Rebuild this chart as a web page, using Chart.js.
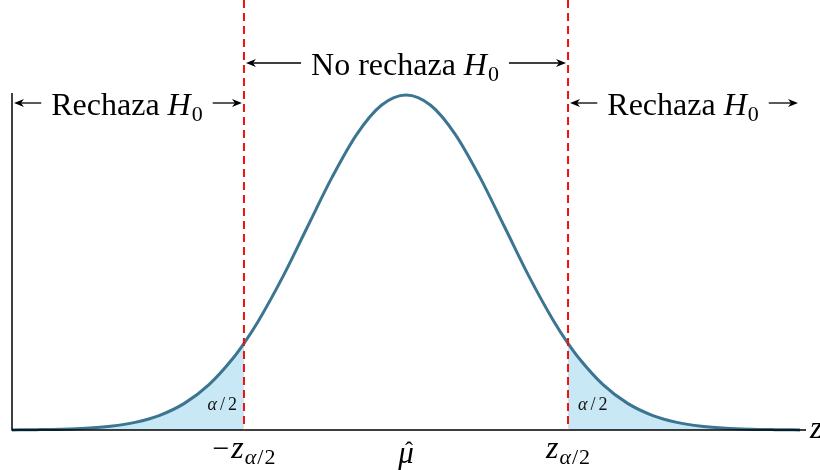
<!DOCTYPE html>
<html lang="es">
<head>
    <meta charset="UTF-8">
    <title>Prueba bilateral</title>
    <script src="https://cdn.jsdelivr.net/npm/chart.js"></script>
    <style>
        body { margin: 0; background: #fff; }
        #box { width: 820px; height: 470px; }
    </style>
</head>
<body>
    <div id="box"><canvas id="normalChart"></canvas></div>

    <script>
        // valores (z, altura)
        const zPoints = [-4, -3.75, -3.5, -3.25, -3, -2.75, -2.5, -2.25, -2, -1.75, -1.645, -1.5, -1.25, -1, -0.75, -0.5, -0.25,
                         0, 0.25, 0.5, 0.75, 1, 1.25, 1.5, 1.645, 1.75, 2, 2.25, 2.5, 2.75, 3, 3.25, 3.5, 3.75, 4];
        const density = [0.0001, 0.0004, 0.0009, 0.002, 0.0044, 0.0091, 0.0175, 0.0317, 0.054, 0.0863, 0.1031, 0.1295, 0.1826, 0.242, 0.3011, 0.3521, 0.3867,
                         0.3989, 0.3867, 0.3521, 0.3011, 0.242, 0.1826, 0.1295, 0.1031, 0.0863, 0.054, 0.0317, 0.0175, 0.0091, 0.0044, 0.002, 0.0009, 0.0004, 0.0001];
        const criticalZ = [-1.645, 1.645];
        const regionLabels = ['Rechaza', 'No rechaza', 'Rechaza'];

        const curve = zPoints.map((z, i) => ({ x: z, y: density[i] }));
        const leftTail = curve.filter(p => p.x <= criticalZ[0]);
        const rightTail = curve.filter(p => p.x >= criticalZ[1]);

        const SERIF = '"Liberation Serif", "DejaVu Serif", serif';

        function drawParts(ctx, parts, x, y, align) {
            let total = 0;
            parts.forEach(p => { ctx.font = p.f; p.w = ctx.measureText(p.t).width + (p.gap || 0); total += p.w; });
            let cx = align === 'center' ? x - total / 2 : (align === 'right' ? x - total : x);
            const start = cx;
            ctx.textAlign = 'left';
            ctx.textBaseline = 'alphabetic';
            parts.forEach(p => {
                ctx.font = p.f;
                ctx.fillText(p.t, cx, y + (p.dy || 0));
                cx += p.w;
            });
            return [start, start + total];
        }

        function arrow(ctx, x1, x2, y) {
            const dir = x2 > x1 ? 1 : -1;
            ctx.beginPath();
            ctx.moveTo(x1, y);
            ctx.lineTo(x2 - dir * 6, y);
            ctx.lineWidth = 1.3;
            ctx.strokeStyle = '#000';
            ctx.stroke();
            ctx.beginPath();
            ctx.moveTo(x2, y);
            ctx.lineTo(x2 - dir * 10, y - 4);
            ctx.lineTo(x2 - dir * 7, y);
            ctx.lineTo(x2 - dir * 10, y + 4);
            ctx.closePath();
            ctx.fillStyle = '#000';
            ctx.fill();
        }

        function h0Parts(label) {
            return [
                { t: label + ' ', f: '32px ' + SERIF },
                { t: 'H', f: 'italic 32px ' + SERIF, gap: 1 },
                { t: '0', f: '22px ' + SERIF, dy: 6 }
            ];
        }

        function alphaParts(size, gap) {
            return [
                { t: 'α', f: 'italic ' + size + 'px ' + SERIF, gap: gap },
                { t: '/', f: size + 'px ' + SERIF, gap: gap },
                { t: '2', f: size + 'px ' + SERIF }
            ];
        }

        const annotations = {
            id: 'annotations',
            afterDatasetsDraw(chart) {
                const ctx = chart.ctx;
                const a = chart.chartArea;
                const xs = chart.scales.x;
                const cL = xs.getPixelForValue(criticalZ[0]);
                const cR = xs.getPixelForValue(criticalZ[1]);
                ctx.save();

                // ejes
                ctx.strokeStyle = '#000';
                ctx.lineWidth = 1.5;
                ctx.beginPath();
                ctx.moveTo(a.left, a.top - 2);
                ctx.lineTo(a.left, a.bottom);
                ctx.lineTo(a.right + 6, a.bottom);
                ctx.stroke();

                // valores criticos
                ctx.strokeStyle = '#f01010';
                ctx.lineWidth = 2;
                ctx.setLineDash([8, 5]);
                [cL, cR].forEach(px => {
                    ctx.beginPath();
                    ctx.moveTo(px, 0);
                    ctx.lineTo(px, a.bottom);
                    ctx.stroke();
                });
                ctx.setLineDash([]);

                ctx.fillStyle = '#000';
                // regiones
                const bounds = [[a.left, cL, 115, 103], [cL, cR, 75, 63], [cR, a.right, 115, 103]];
                bounds.forEach((b, i) => {
                    const mid = (b[0] + b[1]) / 2 - 1;
                    const ext = drawParts(ctx, h0Parts(regionLabels[i]), mid, b[2], 'center');
                    arrow(ctx, ext[0] - 10, b[0] + 2, b[3]);
                    arrow(ctx, ext[1] + 10, b[1] - 2, b[3]);
                });

                // alfa/2 en las colas
                ctx.fillStyle = '#111';
                drawParts(ctx, alphaParts(18, 3), cL - 7, 410, 'right');
                drawParts(ctx, alphaParts(18, 3), cR + 10, 410, 'left');

                // etiquetas del eje
                ctx.fillStyle = '#000';
                drawParts(ctx, [
                    { t: '−', f: '30px ' + SERIF, gap: 2 },
                    { t: 'z', f: 'italic 32px ' + SERIF, gap: 1 }
                ].concat(alphaParts(22, 1).map(p => Object.assign(p, { dy: 6 }))), cL, 458, 'center');
                drawParts(ctx, [
                    { t: 'z', f: 'italic 32px ' + SERIF, gap: 1 }
                ].concat(alphaParts(22, 1).map(p => Object.assign(p, { dy: 6 }))), cR, 458, 'center');
                const mx = xs.getPixelForValue(0);
                drawParts(ctx, [{ t: 'μ', f: 'italic 31px ' + SERIF }], mx, 463, 'center');
                drawParts(ctx, [{ t: 'ˆ', f: '24px ' + SERIF }], mx + 3, 458, 'center');
                drawParts(ctx, [{ t: 'z', f: 'italic 32px ' + SERIF }], a.right + 10, 438, 'left');
                ctx.restore();
            }
        };

        const ctx = document.getElementById('normalChart').getContext('2d');
        new Chart(ctx, {
            type: 'line',
            data: {
                datasets: [{
                    data: curve,
                    order: 0,
                    borderColor: '#3b7591',
                    borderWidth: 3,
                    pointRadius: 0,
                    fill: false,
                    cubicInterpolationMode: 'monotone'
                }, {
                    data: leftTail,
                    order: 1,
                    borderWidth: 0,
                    pointRadius: 0,
                    fill: 'origin',
                    backgroundColor: '#c8e8f6',
                    cubicInterpolationMode: 'monotone'
                }, {
                    data: rightTail,
                    order: 1,
                    borderWidth: 0,
                    pointRadius: 0,
                    fill: 'origin',
                    backgroundColor: '#c8e8f6',
                    cubicInterpolationMode: 'monotone'
                }]
            },
            options: {
                responsive: true,
                maintainAspectRatio: false,
                animation: false,
                clip: false,
                layout: { padding: { left: 12, right: 20, top: 95, bottom: 40 } },
                plugins: { legend: { display: false }, tooltip: { enabled: false } },
                scales: {
                    x: { type: 'linear', min: -4, max: 4, display: false },
                    y: { min: 0, max: 0.3989, display: false }
                }
            },
            plugins: [annotations]
        });
    </script>
</body>
</html>
